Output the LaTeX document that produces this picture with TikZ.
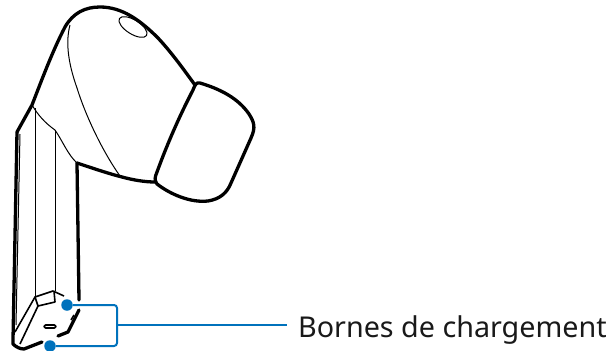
\documentclass[tikz,border=0pt]{standalone}
\usepackage{fontspec}
\setmainfont{Noto Sans}
\definecolor{callout}{HTML}{0072BC}
\tikzset{
  heavy/.style={line width=3.3pt,line join=round,line cap=round},
  mid/.style={line width=1.6pt,line join=round},
  thin/.style={line width=1pt,line join=round},
  dot/.style={circle,fill=callout,inner sep=0pt,minimum size=11.5pt},
  lead/.style={line width=2pt,draw=callout,rounded corners=3pt},
}
\begin{document}
\begin{tikzpicture}[x=1pt,y=-1pt]
\useasboundingbox (0,0) rectangle (614,351);
% housing
\draw[heavy] (17,132) -- (32,105)
  .. controls (41,82) and (52,52) .. (65,27)
  .. controls (73,13) and (85,7) .. (100,7)
  .. controls (122,7) and (140,20) .. (158,38)
  .. controls (172,53) and (184,70) .. (195,85);
% ear tip
\draw[heavy] (200,83)
  .. controls (196,82) and (195,85) .. (193,90)
  .. controls (180,115) and (168,142) .. (157,172)
  .. controls (155,177) and (154,180) .. (157,184)
  .. controls (170,194) and (190,203) .. (208,201)
  .. controls (220,199) and (227,193) .. (231,183)
  -- (251,138)
  .. controls (256,127) and (254,122) .. (249,114)
  .. controls (238,98) and (220,89) .. (200,83) -- cycle;
% lower edge of the housing
\draw[heavy] (77,163) .. controls (95,169) and (110,174) .. (122,177)
  .. controls (133,180) and (145,182) .. (155,182);
% inner contour and hole
\draw[thin] (70,25) .. controls (66,40) and (67,60) .. (77,88)
  .. controls (87,120) and (105,155) .. (120,176);
\draw[thin] (133,27) ellipse [x radius=16,y radius=7,rotate=-32];
% stem outer edges
\draw[heavy] (17,132) -- (13,340) -- (13,344) .. controls (16,347) and (20,349) .. (24,349) -- (42,342);
\draw[heavy] (77,163) -- (79,300);
\draw[heavy] (58,336) -- (68,332) -- (79,310);
\draw[mid] (74,315) -- (71,320);
% stem ridges
\draw[thin] (32,105) .. controls (38,115) and (45,123) .. (55,130)
  .. controls (62,140) and (68,155) .. (77,163);
\draw[thin] (20,134) -- (16,325);
\draw[thin] (35,108) -- (35,297);
\draw[thin] (55,130) -- (55,291);
% foot facets
\draw[mid] (15,332) -- (35,297) -- (53,291) -- (64,296);
\draw[mid] (35,297) -- (38,306) -- (55,302) -- (54,291);
\draw[mid] (38,306) -- (20,344);
\draw[mid,rounded corners=1.5pt] (44,325) rectangle (56,328);
% callout
\node[dot] (d1) at (67,305) {};
\node[dot] (d2) at (50,346) {};
\coordinate (b) at (117,325);
\node[anchor=base west,inner sep=0pt,font=\fontsize{28.7}{34}\selectfont,text=black!90] (lab) at (298,337) {Bornes de chargement};
\draw[lead] (d1) -| (b) |- (d2);
\draw[line width=2pt,draw=callout] (b) -- (287,325);
\end{tikzpicture}
\end{document}
